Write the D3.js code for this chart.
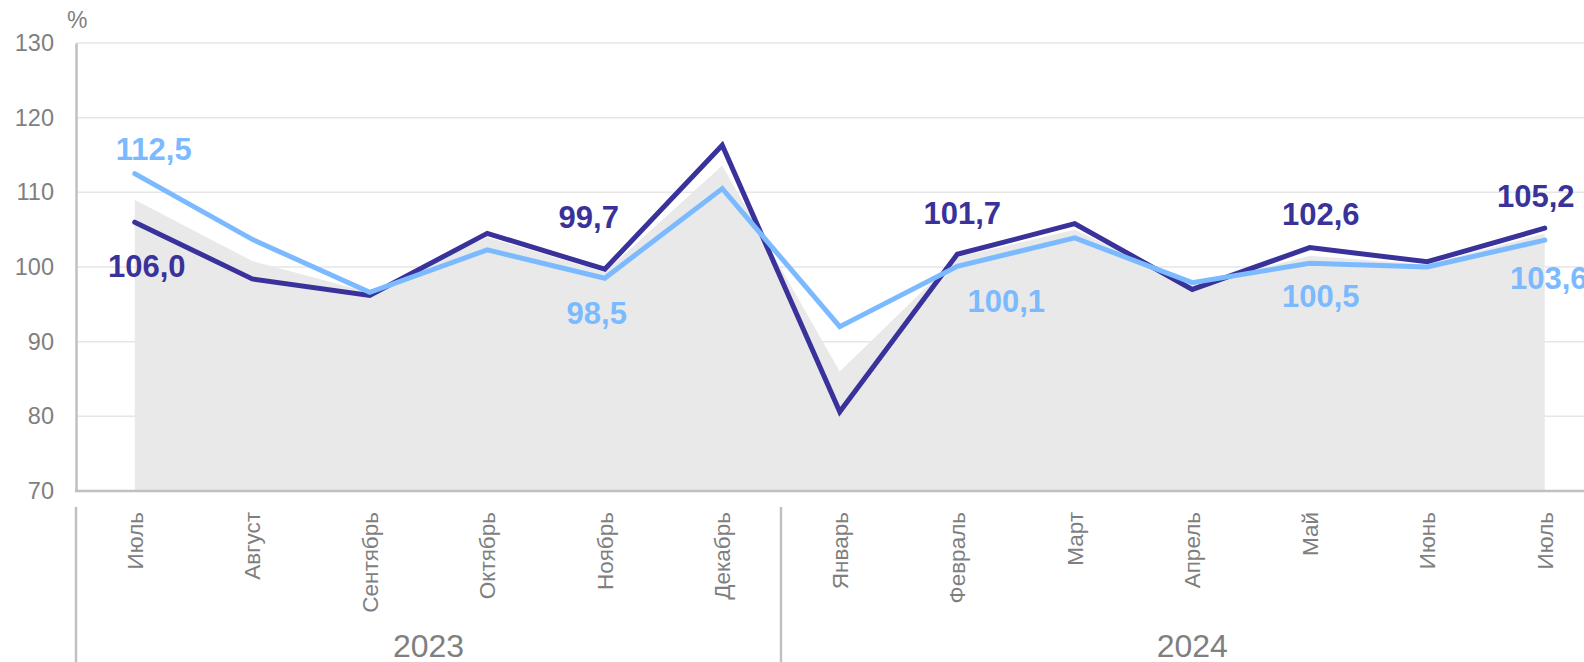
<!DOCTYPE html>
<html>
<head>
<meta charset="utf-8">
<script src="https://cdn.jsdelivr.net/npm/d3@7"></script>
<style>
  body { margin: 0; background: #fff; }
  svg { display: block; font-family: "Liberation Sans", Arial, sans-serif; }
</style>
</head>
<body>
<div id="chart"></div>
<script>
// months (13 points, July 2023 .. July 2024)
var months = ["Июль", "Август", "Сентябрь", "Октябрь", "Ноябрь", "Декабрь",
              "Январь", "Февраль", "Март", "Апрель", "Май", "Июнь", "Июль"];
var years = ["2023", "2024"];
var yearCounts = [6, 7];

// dark line
var seriesDark = [106.0, 98.4, 96.2, 104.5, 99.7, 116.3, 80.6, 101.7, 105.8, 97.0, 102.6, 100.7, 105.2];
// light line
var seriesLight = [112.5, 103.7, 96.6, 102.3, 98.5, 110.5, 92.0, 100.1, 103.9, 97.9, 100.5, 100.0, 103.6];
// grey area
var seriesArea = [109.0, 100.8, 96.6, 104.0, 99.3, 113.6, 86.0, 101.3, 105.0, 97.5, 101.5, 100.3, 104.5];

var yTicks = [70, 80, 90, 100, 110, 120, 130];
var labelIdx = [0, 4, 7, 10, 12];

var width = 1584, height = 662;
var plotLeft = 76, plotTop = 43, plotBottom = 491;
var colDark = "#38329a", colLight = "#7cbaff", colArea = "#e9e9e9", colText = "#7f7f7f", colAxis = "#c0c0c0";

var svg = d3.select("#chart").append("svg")
    .attr("width", width)
    .attr("height", height);

var x = d3.scalePoint()
    .domain(d3.range(months.length))
    .range([plotLeft, plotLeft + 117.5 * months.length])
    .padding(0.5);

var y = d3.scaleLinear()
    .domain([70, 130])
    .range([plotBottom, plotTop]);

var fmt = function(v) { return d3.format(".1f")(v).replace(".", ","); };

// grid
svg.append("g").selectAll("line")
  .data(yTicks.slice(1))
  .enter().append("line")
    .attr("x1", plotLeft).attr("x2", width)
    .attr("y1", function(d) { return y(d); })
    .attr("y2", function(d) { return y(d); })
    .attr("stroke", "#e6e6e6")
    .attr("stroke-width", 1.5);

// area
var area = d3.area()
    .x(function(d, i) { return x(i); })
    .y0(y(70))
    .y1(function(d) { return y(d); });

svg.append("path")
    .datum(seriesArea)
    .attr("d", area)
    .attr("fill", colArea);

// y axis
var yAxis = d3.axisLeft(y).tickValues(yTicks).tickSize(0).tickPadding(22);
var gy = svg.append("g").attr("transform", "translate(" + plotLeft + ",0)").call(yAxis);
gy.select(".domain").attr("stroke", colAxis).attr("stroke-width", 2.5);
gy.selectAll("text").attr("fill", colText).style("font-size", "23.5px")
    .style("font-family", "Liberation Sans, Arial, sans-serif");

svg.append("line")
    .attr("x1", plotLeft - 1).attr("x2", width)
    .attr("y1", plotBottom).attr("y2", plotBottom)
    .attr("stroke", colAxis).attr("stroke-width", 2.5);

svg.append("text")
    .attr("x", 67).attr("y", 28)
    .attr("fill", colText)
    .style("font-size", "23px")
    .text("%");

// lines
var line = d3.line()
    .x(function(d, i) { return x(i); })
    .y(function(d) { return y(d); });

svg.append("path")
    .datum(seriesDark)
    .attr("d", line)
    .attr("fill", "none")
    .attr("stroke", colDark)
    .attr("stroke-width", 5)
    .attr("stroke-linecap", "round");

svg.append("path")
    .datum(seriesLight)
    .attr("d", line)
    .attr("fill", "none")
    .attr("stroke", colLight)
    .attr("stroke-width", 5)
    .attr("stroke-linecap", "round");

// data labels (offsets from the point)
var darkOff = [[12, 44], [-16, -52], [5, -41], [11, -34], [-9, -32]];
var lightOff = [[19, -25], [-8, 35], [49, 35], [11, 33], [4, 38]];

function addLabels(series, offs, color) {
  svg.append("g").selectAll("text")
    .data(labelIdx)
    .enter().append("text")
      .attr("x", function(d, k) { return x(d) + offs[k][0]; })
      .attr("y", function(d, k) { return y(series[d]) + offs[k][1]; })
      .attr("dy", "0.36em")
      .attr("text-anchor", "middle")
      .attr("fill", color)
      .style("font-size", "31px")
      .style("font-weight", "bold")
      .text(function(d) { return fmt(series[d]); });
}
addLabels(seriesDark, darkOff, colDark);
addLabels(seriesLight, lightOff, colLight);

// month labels
svg.append("g").selectAll("text")
  .data(months)
  .enter().append("text")
    .attr("transform", function(d, i) { return "translate(" + x(i) + ",512) rotate(-90)"; })
    .attr("dy", "0.35em")
    .attr("text-anchor", "end")
    .attr("fill", colText)
    .style("font-size", "22.5px")
    .text(function(d) { return d; });

// year groups
var start = 0;
years.forEach(function(yr, k) {
  var x0 = x(start) - x.step() / 2;
  var x1 = x(start + yearCounts[k] - 1) + x.step() / 2;
  svg.append("line")
      .attr("x1", x0).attr("x2", x0)
      .attr("y1", 507).attr("y2", height)
      .attr("stroke", colAxis).attr("stroke-width", 2.5);
  svg.append("text")
      .attr("x", (x0 + x1) / 2)
      .attr("y", 657)
      .attr("text-anchor", "middle")
      .attr("fill", colText)
      .style("font-size", "32px")
      .text(yr);
  start += yearCounts[k];
});
</script>
</body>
</html>
